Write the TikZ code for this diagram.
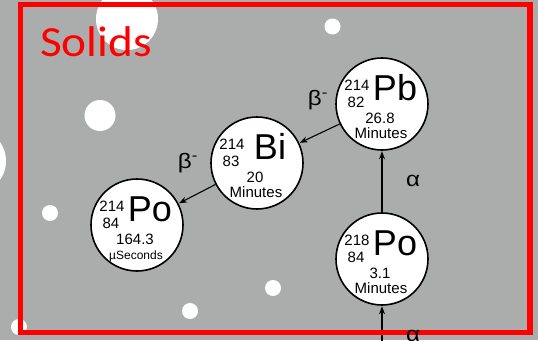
\documentclass[tikz,border=0pt]{standalone}
\usepackage{graphicx}
\usepackage{fontspec}
\setmainfont{Liberation Sans}
\newfontfamily\slidefont{Carlito}
\usetikzlibrary{arrows.meta}

\definecolor{slidegray}{RGB}{171,173,172}
\definecolor{solidred}{RGB}{255,0,0}

% slide headings are drawn a little wider than they are tall
\newcommand{\wide}[2][1.15]{\scalebox{#1}[1]{#2}}

% one nucleus: name, centre, mass number, atomic number, symbol, half-life, unit
\newcommand{\nuclide}[7]{%
  \node[nucleus] (#1) at (#2) {};
  \node[nucnum] at ([shift={(-25,-14)}]#1.center) {#3};
  \node[nucnum] at ([shift={(-26,3)}]#1.center) {#4};
  \node[nucsym] at ([shift={(13,-4)}]#1.center) {#5};
  \node[nucnum] at ([shift={(-2,19)}]#1.center) {#6};
  \node[nucnum] at ([shift={(-1,34)}]#1.center) {#7};
}

\begin{document}
\begin{tikzpicture}[x=1pt,y=-1pt]
\tikzset{nucleus/.style={circle,draw=black,line width=1.6pt,fill=white,minimum size=92pt,inner sep=0pt}}
\tikzset{nucnum/.style={anchor=base,inner sep=0pt,font=\fontsize{15}{16}\selectfont}}
\tikzset{nucsym/.style={anchor=base,inner sep=0pt,font=\fontsize{36}{38}\selectfont}}
\tikzset{decay/.style={-{Stealth[length=8pt,width=6pt]},line width=1.1pt,shorten >=0.5pt}}
\tikzset{decaylabel/.style={inner sep=0pt,font=\fontsize{21}{23}\selectfont}}
\tikzset{dust/.style={fill=white}}

\useasboundingbox (0,0) rectangle (538,340);
\clip (0,0) rectangle (538,340);
\fill[slidegray] (0,0) rectangle (538,340);

% white dots behind
\fill[dust] (127,19) circle (31);
\fill[dust] (332.5,26.5) circle (8);
\fill[dust] (100,115.5) circle (15.5);
\fill[dust] (-27,161) circle (33);
\fill[dust] (50,213) circle (8);
\fill[dust] (273,288) circle (8);
\fill[dust] (190,311) circle (8);
\fill[dust] (19,327) circle (8);

\nuclide{pb}{382,104}{214}{82}{Pb}{26.8}{Minutes}
\nuclide{bi}{257,163}{214}{83}{Bi}{20}{Minutes}
\nuclide{polo}{137,225}{214}{84}{Po}{164.3}{\fontsize{12}{13}\selectfont µSeconds}
\nuclide{pohi}{382,259}{218}{84}{Po}{3.1}{Minutes}

\coordinate (rn) at (382,345);

\draw[decay] (rn) -- (pohi);
\draw[decay] (pohi) -- (pb);
\draw[decay] (pb) -- (bi);
\draw[decay] (bi) -- (polo);

\draw[solidred,line width=5.5pt] (20.3,4.3) rectangle (530,332.5);
\node[anchor=base west,inner sep=0pt,text=solidred,font=\slidefont\fontsize{43}{45}\selectfont] (solids) at (40,56) {\wide[1.1]{Solids}};

\node[decaylabel] (alphaup) at (413,181) {\wide{α}};
\node[decaylabel] (alphalow) at (413,336) {\wide{α}};
\node[decaylabel] (betapb) at (318,100) {\wide{β\textsuperscript{-}}};
\node[decaylabel] (betabi) at (188,163) {\wide{β\textsuperscript{-}}};
\end{tikzpicture}
\end{document}
